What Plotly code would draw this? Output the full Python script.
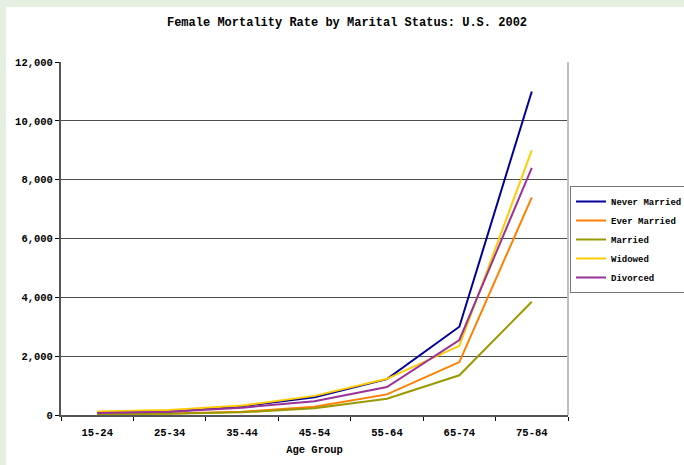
import plotly.graph_objects as go

age_groups = ["15-24", "25-34", "35-44", "45-54", "55-64", "65-74", "75-84"]
never_married = [60, 110, 300, 600, 1220, 3000, 11000]
ever_married = [40, 50, 110, 280, 700, 1800, 7400]
married = [35, 40, 90, 230, 550, 1350, 3850]
widowed = [120, 170, 320, 650, 1230, 2350, 9000]
divorced = [70, 110, 250, 470, 950, 2550, 8400]

series = [
    ("Never Married", never_married, "#000099"),
    ("Ever Married", ever_married, "#FF7F00"),
    ("Married", married, "#999900"),
    ("Widowed", widowed, "#FFCC00"),
    ("Divorced", divorced, "#993399"),
]

FONT = "Liberation Mono, Courier New, monospace"

fig = go.Figure()
for name, vals, col in series:
    fig.add_trace(go.Scatter(x=age_groups, y=vals, name="<b>" + name + "</b>",
                             mode="lines", line=dict(color=col, width=2)))

L, R, T, B = 61, 116, 62, 50
W, H = 684, 465
pw, ph = W - L - R, H - T - B

# white panel over light green page background
fig.add_shape(type="rect", xref="paper", yref="paper", layer="below",
              x0=(6 - L) / pw, x1=(W + 10 - L) / pw,
              y0=-(B + 10) / ph, y1=1 + (T - 7) / ph,
              fillcolor="white", line=dict(width=0))
# right border of plot area
fig.add_shape(type="line", xref="paper", yref="paper", x0=1, x1=1, y0=0, y1=1,
              line=dict(color="#c0c0c0", width=2))

fig.update_layout(
    width=W, height=H,
    margin=dict(l=L, r=R, t=T, b=B, autoexpand=False),
    paper_bgcolor="#e5f0e3",
    plot_bgcolor="white",
    font=dict(family=FONT, size=10, color="black"),
    title=dict(text="<b>Female Mortality Rate by Marital Status: U.S. 2002</b>",
               x=(347 - L) / pw, xref="paper", xanchor="center",
               y=1 - 22 / H, yanchor="middle", font=dict(size=12, family=FONT)),
    xaxis=dict(
        type="category", range=[-0.5, 6.5], tickson="boundaries", ticks="outside",
        ticklen=4, tickcolor="black", showline=True, linecolor="#555555",
        linewidth=2, showgrid=False, tickfont=dict(size=10.5, family=FONT),
        ticklabelstandoff=6,
        title=dict(text="<b>Age Group</b>", font=dict(size=10.5, family=FONT),
                   standoff=8),
        tickprefix="<b>", ticksuffix="</b>",
    ),
    yaxis=dict(
        range=[0, 12000], dtick=2000, tickformat=",", ticks="outside", ticklen=4,
        tickcolor="black", showline=True, linecolor="#555555", linewidth=2,
        showgrid=True, gridcolor="#4d4d4d", gridwidth=1, zeroline=False,
        tickfont=dict(size=10.5, family=FONT),
        tickprefix="<b>", ticksuffix="</b>",
    ),
    legend=dict(
        x=(570 - L) / pw, xanchor="left", y=(H - B - 186) / ph, yanchor="top",
        bordercolor="#777777", borderwidth=1, bgcolor="white",
        font=dict(size=9, family=FONT), tracegroupgap=0, itemwidth=30,
    ),
)

fig.write_html("out.html")
